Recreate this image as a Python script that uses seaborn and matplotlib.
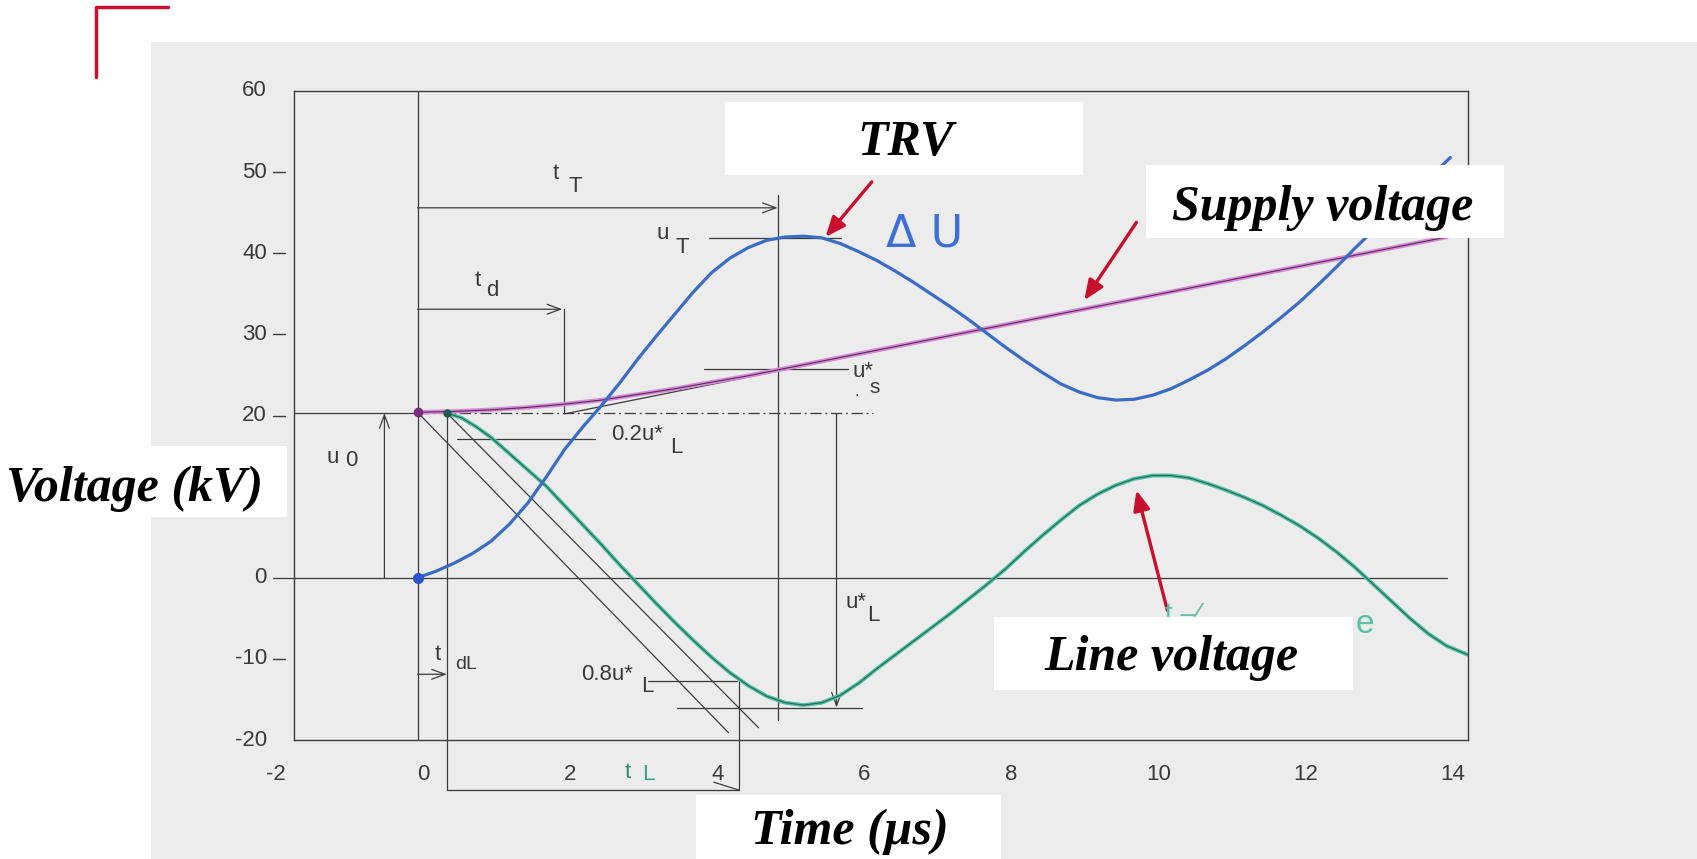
import pandas as pd
import matplotlib.pyplot as plt
import seaborn as sns
from matplotlib.patches import Rectangle
from matplotlib.lines import Line2D

# --- values (time in us, voltage in kV) ---
trv_time = [0, 0.25, 0.5, 0.75, 1.0, 1.25, 1.5, 1.75, 2.0, 2.25, 2.5, 2.75, 3.0, 3.25, 3.5,
            3.75, 4.0, 4.25, 4.5, 4.75, 5.0, 5.25, 5.5, 5.75, 6.0, 6.25, 6.5, 6.75, 7.0,
            7.25, 7.5, 7.75, 8.0, 8.25, 8.5, 8.75, 9.0, 9.25, 9.5, 9.75, 10.0, 10.25, 10.5,
            10.75, 11.0, 11.25, 11.5, 11.75, 12.0, 12.25, 12.5, 12.75, 13.0, 13.25, 13.5,
            13.75, 14.05]
trv_kv = [0, 0.8, 1.8, 3.0, 4.5, 6.6, 9.2, 12.4, 15.8, 18.6, 21.2, 24.0, 27.0, 29.8, 32.5,
          35.2, 37.6, 39.4, 40.7, 41.6, 42.0, 42.1, 41.9, 41.2, 40.2, 39.1, 37.8, 36.4, 34.9,
          33.4, 31.8, 30.1, 28.4, 26.8, 25.3, 23.9, 22.9, 22.2, 21.9, 22.0, 22.5, 23.3, 24.4,
          25.6, 27.0, 28.6, 30.3, 32.1, 34.0, 36.1, 38.3, 40.6, 42.8, 45.0, 47.0,
          49.2, 51.8]

line_time = [0.4, 0.6, 0.8, 1.0, 1.25, 1.5, 1.75, 2.0, 2.25, 2.5, 2.75, 3.0, 3.25, 3.5,
             3.75, 4.0, 4.25, 4.5, 4.75, 5.0, 5.25, 5.5, 5.75, 6.0, 6.25, 6.5, 6.75, 7.0,
             7.25, 7.5, 7.75, 8.0, 8.25, 8.5, 8.75, 9.0, 9.25, 9.5, 9.75, 10.0, 10.25, 10.5,
             10.75, 11.0, 11.25, 11.5, 11.75, 12.0, 12.25, 12.5, 12.75, 13.0, 13.25, 13.5,
             13.75, 14.0, 14.29]
line_kv = [20.3, 19.7, 18.6, 17.3, 15.3, 13.3, 11.3, 8.9, 6.5, 4.1, 1.6, -0.8, -3.2, -5.5,
           -7.7, -9.8, -11.7, -13.3, -14.6, -15.4, -15.7, -15.4, -14.5, -13.0, -11.2, -9.5,
           -7.8, -6.1, -4.4, -2.6, -0.8, 1.1, 3.2, 5.2, 7.1, 8.9, 10.3, 11.4, 12.2, 12.6,
           12.6, 12.3, 11.6, 10.8, 9.9, 8.9, 7.7, 6.4, 4.9, 3.2, 1.3, -0.8, -2.9, -5.0,
           -6.9, -8.4, -9.5]

supply_time = [0, 0.5, 1.0, 1.5, 2.0, 2.5, 3.0, 3.5, 4.0, 4.5, 5.0, 5.5, 6.0, 7.0, 8.0,
               9.0, 10.0, 11.0, 12.0, 13.0, 14.0]
supply_kv = [20.4, 20.5, 20.7, 21.0, 21.4, 21.9, 22.6, 23.3, 24.1, 24.9, 25.8, 26.7, 27.6,
             29.4, 31.2, 33.0, 34.8, 36.6, 38.4, 40.2, 42.0]

x_tick_labels = [-2, 0, 2, 4, 6, 8, 10, 12, 14]
# the 10 kV label sits under the "Voltage (kV)" caption in the reference
y_tick_labels = [60, 50, 40, 30, 20, 0, -10, -20]

W, H = 1697, 859
INK = '#3c3c3c'
TXT = '#3a3a3a'
RED = '#c8102e'


def fx(px):
    return px / W


def fy(py):
    return 1 - py / H


sns.set_style("white")
plt.rcParams['font.family'] = ['Liberation Sans', 'DejaVu Sans']

fig = plt.figure(figsize=(W / 100, H / 100), dpi=100)
fig.patch.set_facecolor('white')

# scanned page background and the red corner mark
fig.add_artist(Rectangle((fx(151), 0), 1 - fx(151), fy(42), transform=fig.transFigure,
                         facecolor='#ececec', edgecolor='none', zorder=-5))
fig.add_artist(Line2D([fx(96), fx(96), fx(168)], [fy(77), fy(7), fy(7)],
                      transform=fig.transFigure, color=RED, lw=2.5))

ax = fig.add_axes([fx(294), fy(740), fx(1468) - fx(294), fy(91) - fy(740)])
ax.set_facecolor('none')

# --- curves ---
trv = pd.DataFrame({'time': trv_time, 'kv': trv_kv})
line = pd.DataFrame({'time': line_time, 'kv': line_kv})
supply = pd.DataFrame({'time': supply_time, 'kv': supply_kv})

# tangent to the supply voltage starting at t_d
ax.plot([2.0, 14.0], [20.2, 42.0], color=INK, lw=0.9, zorder=3)
sns.lineplot(data=supply, x='time', y='kv', ax=ax, color='#d68ad6', lw=3.2,
             sort=False, estimator=None, zorder=4)
sns.lineplot(data=supply, x='time', y='kv', ax=ax, color='#5a2a5a', lw=0.8,
             sort=False, estimator=None, zorder=4)
sns.lineplot(data=line, x='time', y='kv', ax=ax, color='#4fbf9f', lw=2.8,
             sort=False, estimator=None, zorder=4)
sns.lineplot(data=line, x='time', y='kv', ax=ax, color='#24685a', lw=0.8,
             sort=False, estimator=None, zorder=4)
sns.lineplot(data=trv, x='time', y='kv', ax=ax, color='#3a6cc4', lw=2.3,
             sort=False, estimator=None, zorder=5)

ax.plot([0], [20.4], 'o', color='#7b2d7b', ms=6, zorder=6)
ax.plot([0.4], [20.3], 'o', color='#1d5e4e', ms=5, zorder=6)
ax.plot([0], [0], 'o', color='#2a55c8', ms=7, zorder=6)

ax.set_xlim(-1.68, 14.29)
ax.set_ylim(-20, 60)
ax.set_xlabel('')
ax.set_ylabel('')
for s in ax.spines.values():
    s.set_color(INK)
    s.set_linewidth(1.0)
ax.set_xticks([2, 4, 6, 8, 10, 12])
ax.set_xticklabels([])
ax.set_yticks([])
ax.tick_params(axis='x', direction='in', length=7, width=0.9, color=INK)

for t in x_tick_labels:
    ax.text(t + 0.08, -24.3, str(t), ha='center', va='center', fontsize=16,
            color=TXT, clip_on=False)
for v in y_tick_labels:
    ax.text(-2.05, v, str(v), ha='right', va='center', fontsize=16, color=TXT, clip_on=False)
for v in [50, 40, 30, 20, -10]:
    ax.plot([-1.97, -1.80], [v, v], color=INK, lw=1.0, clip_on=False)

# --- construction lines ---
def seg(xs, ys, **kw):
    ax.plot(xs, ys, color=INK, lw=0.9, clip_on=False, zorder=2, **kw)


seg([0, 0], [-20, 60])
seg([-1.97, 14.0], [0, 0])
seg([-1.68, 0], [20.3, 20.3])
seg([0, 6.2], [20.3, 20.3], linestyle=(0, (9, 3, 1.5, 3)))
seg([0, 4.23], [20.4, -19.1])
seg([0.4, 4.64], [20.3, -18.5])
seg([3.96, 5.76], [41.9, 41.9])
seg([3.9, 5.85], [25.7, 25.7])
seg([0.54, 2.42], [17.1, 17.1])
seg([3.14, 4.35], [-12.7, -12.7])
seg([3.53, 6.05], [-16.0, -16.0])
seg([4.9, 4.9], [47.2, -17.5])
seg([1.99, 1.99], [33.1, 20.3])
seg([4.38, 4.38], [-12.7, -26.2])
seg([0.4, 0.4], [20.3, -26.2])
seg([0.4, 4.38], [-26.2, -26.2])
seg([4.03, 4.38], [-25.2, -26.2])


def arrow(x0, y0, x1, y1):
    ax.annotate('', xy=(x1, y1), xytext=(x0, y0), annotation_clip=False,
                arrowprops=dict(arrowstyle='->,head_length=0.6,head_width=0.22', color=INK,
                                lw=0.9, shrinkA=0, shrinkB=0, mutation_scale=16))


arrow(0, 45.6, 4.9, 45.6)
arrow(0, 33.1, 1.97, 33.1)
arrow(-0.45, 0, -0.45, 20.3)
arrow(5.7, 20.2, 5.7, -16.0)
arrow(0, -11.9, 0.4, -11.9)

# --- small symbol labels ---
def lab(x, y, s, size=16, color=TXT, ha='center'):
    ax.text(x, y, s, ha=ha, va='center', fontsize=size, color=color, clip_on=False)


lab(-1.15, 14.8, 'u')
lab(-0.9, 14.5, '0')
lab(1.88, 49.8, 't')
lab(2.14, 48.2, 'T')
lab(0.82, 36.6, 't')
lab(1.02, 35.4, 'd')
lab(3.33, 42.4, 'u')
lab(3.6, 40.7, 'T')
lab(6.06, 25.4, 'u*')
lab(6.22, 23.4, 's', size=15)
lab(5.98, 23.0, '.', size=12)
lab(2.63, 17.6, '0.2u*', ha='left')
lab(3.52, 16.0, 'L')
lab(2.22, -11.9, '0.8u*', ha='left')
lab(3.12, -13.4, 'L')
lab(5.96, -3.0, 'u*')
lab(6.2, -4.7, 'L')
lab(0.27, -9.4, 't')
lab(0.66, -10.7, 'dL', size=14)
lab(2.86, -24.0, 't', color='#2f8a74')
lab(3.14, -24.3, 'L', color='#3aa088')

# hand-written notes on the scan
fig.text(fx(925), fy(234), 'Δ U', ha='center', va='center', fontsize=32, color='#3d6fd6',
         family=['DejaVu Sans'])
fig.text(fx(1165), fy(622), 't –⁄', ha='left', va='baseline', fontsize=20,
         color='#5cc0a8', zorder=3)
fig.text(fx(1356), fy(633), 'e', ha='left', va='baseline', fontsize=24,
         color='#5cc0a8', zorder=3)

# --- red call-out arrows ---
for (x0, y0, x1, y1) in [(6.18, 48.8, 5.55, 42.0), (9.78, 43.8, 9.07, 34.2),
                         (10.2, -4.0, 9.78, 10.8)]:
    ax.annotate('', xy=(x1, y1), xytext=(x0, y0), annotation_clip=False,
                arrowprops=dict(arrowstyle='-|>,head_length=0.6,head_width=0.25', color=RED,
                                lw=2.4, shrinkA=0, shrinkB=0, mutation_scale=20), zorder=7)

# --- white caption boxes ---
boxes = [
    ('Voltage (kV)', 0, 287, 446, 517, 135, 501),
    ('TRV', 725, 1083, 102, 175, 906, 155),
    ('Supply voltage', 1146, 1504, 165, 238, 1323, 220),
    ('Line voltage', 994, 1353, 617, 690, 1171, 670),
    ('Time (µs)', 696, 1001, 795, 859, 850, 844),
]
for text, x0, x1, y0, y1, tx, ty in boxes:
    fig.add_artist(Rectangle((fx(x0), fy(y1)), fx(x1) - fx(x0), fy(y0) - fy(y1),
                             transform=fig.transFigure, facecolor='white',
                             edgecolor='none', zorder=4))
    fig.text(fx(tx), fy(ty), text, ha='center', va='baseline', fontsize=36,
             family=['Liberation Serif', 'DejaVu Serif'], fontweight='bold',
             fontstyle='italic', color='black', zorder=5)

fig.savefig('out.png', dpi=100)
